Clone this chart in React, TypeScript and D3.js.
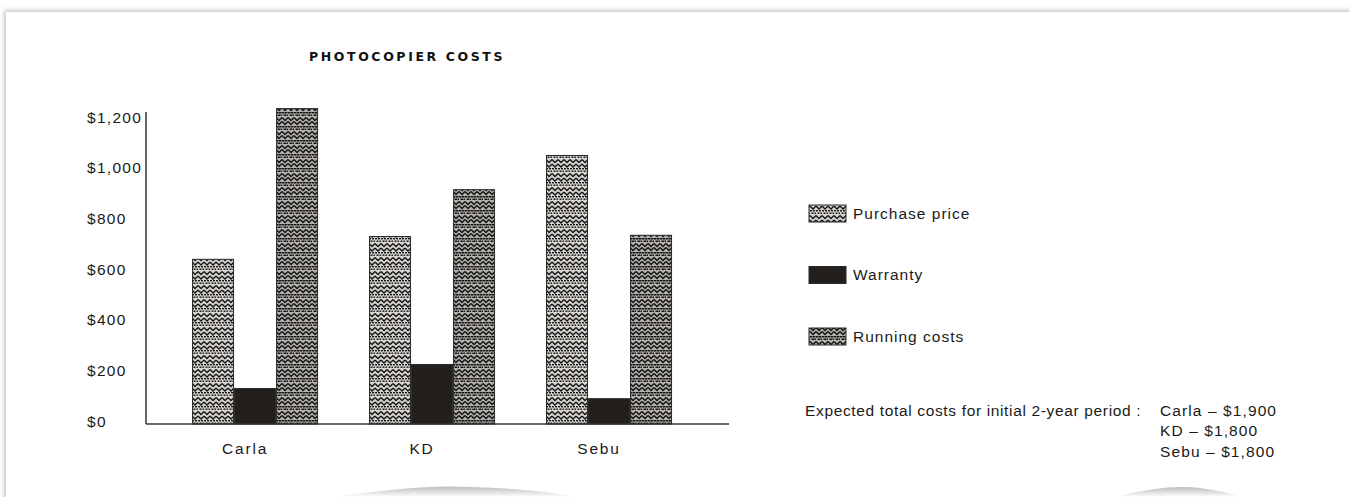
import React from "react";
import * as d3 from "d3";

const categories = ["Carla", "KD", "Sebu"];
const seriesNames = ["Purchase price", "Warranty", "Running costs"];
const purchasePrice = [650, 740, 1060];
const warranty = [140, 235, 100];
const runningCosts = [1245, 925, 745];
const yTicks = [0, 200, 400, 600, 800, 1000, 1200];
const totalsLabel = "Expected total costs for initial 2-year period :";
const totals = ["Carla – $1,900", "KD – $1,800", "Sebu – $1,800"];

const W = 1349;
const H = 497;
const FONT = "'Liberation Sans', Arial, sans-serif";

export default function App() {
  const y = d3.scaleLinear().domain([0, 1200]).range([424, 120]);
  const x = d3
    .scaleBand<string>()
    .domain(categories)
    .range([146, 729])
    .paddingInner(0.288)
    .paddingOuter(0.291)
    .align(0.447);
  const xs = d3.scaleBand<string>().domain(seriesNames).range([0, x.bandwidth()]).padding(0);
  const seriesValues = [purchasePrice, warranty, runningCosts];
  const fills = ["url(#patPurchase)", "#231f1c", "url(#patRunning)"];
  const fmt = (v: number) => "$" + d3.format(",")(v);
  const legendY = d3.scalePoint<string>().domain(seriesNames).range([213, 336]);

  return (
    <svg
      width={W}
      height={H}
      style={{ position: "absolute", left: 0, top: 0, background: "#fff" }}
    >
      <defs>
        <filter id="blur" x="-5%" y="-5%" width="110%" height="110%">
          <feGaussianBlur stdDeviation="2.2" />
        </filter>
        <linearGradient id="curl" x1="0" y1="0" x2="0" y2="1">
          <stop offset="0" stopColor="#bdbdbd" />
          <stop offset="1" stopColor="#ffffff" />
        </linearGradient>
        <pattern id="patPurchase" patternUnits="userSpaceOnUse" width="6" height="14">
          <rect width="6" height="14" fill="#d8d4d0" />
          <rect x="0" y="0" width="2" height="1.4" fill="#111" />
          <rect x="3" y="0" width="2" height="1.4" fill="#111" />
          <rect x="1.5" y="2.5" width="2" height="1.4" fill="#111" />
          <rect x="4.5" y="2.5" width="1.5" height="1.4" fill="#111" />
          <path d="M0,5.5 L3,8.5 L6,5.5" fill="none" stroke="#111" strokeWidth="1.3" />
          <path d="M0,10 L3,13 L6,10" fill="none" stroke="#111" strokeWidth="1.3" />
        </pattern>
        <pattern id="patRunning" patternUnits="userSpaceOnUse" width="6" height="14">
          <rect width="6" height="14" fill="#b4b0ac" />
          <rect x="0" y="0" width="2.5" height="1.5" fill="#111" />
          <rect x="3" y="0" width="2.5" height="1.5" fill="#111" />
          <rect x="1.5" y="2.5" width="2.5" height="1.5" fill="#111" />
          <rect x="4.5" y="2.5" width="1.5" height="1.5" fill="#111" />
          <path d="M0,5.5 L3,8.5 L6,5.5" fill="none" stroke="#111" strokeWidth="1.5" />
          <path d="M0,9.5 L3,12.5 L6,9.5" fill="none" stroke="#111" strokeWidth="1.5" />
        </pattern>
      </defs>

      {/* page frame with soft shadow */}
      <rect x={4} y={10} width={1400} height={600} fill="#c8c8c8" filter="url(#blur)" />
      <rect x={6} y={12} width={1400} height={600} fill="#ffffff" />
      <path d="M335,497 Q420,484 470,487 Q540,489 575,497 Z" fill="url(#curl)" />
      <path d="M1115,497 Q1165,484 1200,488 Q1225,491 1240,497 Z" fill="url(#curl)" />

      {/* title */}
      <text
        x={407}
        y={56}
        textAnchor="middle"
        dominantBaseline="central"
        fontFamily="'DejaVu Sans', sans-serif"
        fontWeight="bold"
        fontSize={12.5}
        letterSpacing={2.6}
        fill="#111"
      >
        PHOTOCOPIER COSTS
      </text>

      {/* y tick labels */}
      {yTicks.map((t) => (
        <text
          key={t}
          x={87}
          y={y(t) - 3}
          dominantBaseline="central"
          fontFamily={FONT}
          fontSize={15.5}
          letterSpacing={1.3}
          fill="#1a1a1a"
        >
          {fmt(t)}
        </text>
      ))}

      {/* bars */}
      {categories.map((c, i) => (
        <g key={c} transform={`translate(${x(c)},0)`}>
          {seriesNames.map((s, j) => {
            const v = seriesValues[j][i];
            return (
              <rect
                key={s}
                x={xs(s)! + 0.5}
                y={y(v)}
                width={xs.bandwidth() - 1}
                height={y(0) - y(v)}
                fill={fills[j]}
                stroke="#2a2a2a"
                strokeWidth={1}
              />
            );
          })}
        </g>
      ))}

      {/* axes */}
      <line x1={146} x2={146} y1={112} y2={424} stroke="#333" strokeWidth={1.5} />
      <line x1={146} x2={729} y1={424} y2={424} stroke="#333" strokeWidth={1.5} />

      {/* category labels */}
      {categories.map((c) => (
        <text
          key={c}
          x={x(c)! + x.bandwidth() / 2 - 10}
          y={448}
          textAnchor="middle"
          dominantBaseline="central"
          fontFamily={FONT}
          fontSize={15.5}
          letterSpacing={1.8}
          fill="#1a1a1a"
        >
          {c}
        </text>
      ))}

      {/* legend */}
      {seriesNames.map((s, j) => (
        <g key={s}>
          <rect
            x={809}
            y={legendY(s)! - 8}
            width={37}
            height={17}
            fill={fills[j]}
            stroke="#2a2a2a"
            strokeWidth={1}
          />
          <text
            x={853}
            y={legendY(s)!}
            dominantBaseline="central"
            fontFamily={FONT}
            fontSize={15.5}
            letterSpacing={1.0}
            fill="#1a1a1a"
          >
            {s}
          </text>
        </g>
      ))}

      {/* totals note */}
      <text
        x={805}
        y={410}
        dominantBaseline="central"
        fontFamily={FONT}
        fontSize={15.5}
        letterSpacing={0.65}
        fill="#1a1a1a"
      >
        {totalsLabel}
      </text>
      {totals.map((t, i) => (
        <text
          key={t}
          x={1160}
          y={410 + i * 20.5}
          dominantBaseline="central"
          fontFamily={FONT}
          fontSize={15.5}
          letterSpacing={1.1}
          fill="#1a1a1a"
        >
          {t}
        </text>
      ))}
    </svg>
  );
}
